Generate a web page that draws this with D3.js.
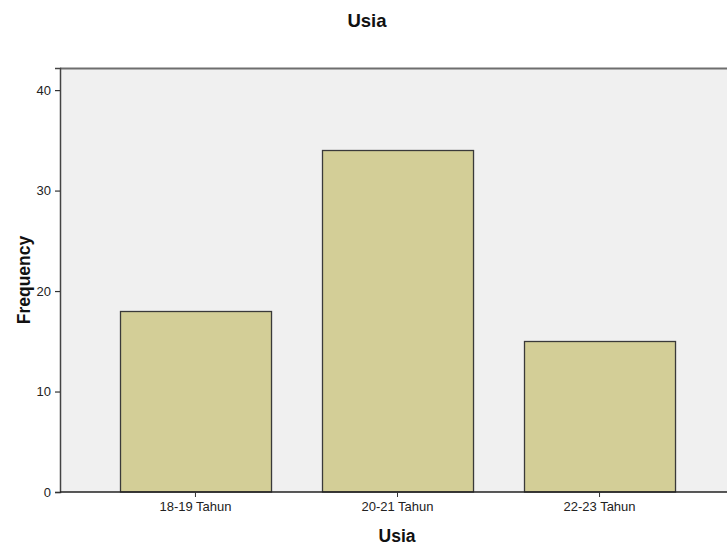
<!DOCTYPE html>
<html>
<head>
<meta charset="utf-8">
<script src="https://cdn.jsdelivr.net/npm/d3@7/dist/d3.min.js"></script>
<style>
  body { margin: 0; background: #fff; }
  svg { display: block; }
</style>
</head>
<body>
<svg id="chart" width="727" height="550"></svg>
<script>
const categories = ["18-19 Tahun", "20-21 Tahun", "22-23 Tahun"];
const frequencies = [18, 34, 15];
const yTicks = [0, 10, 20, 30, 40];
const chartTitle = "Usia";
const xTitle = "Usia";
const yTitle = "Frequency";

const W = 727, H = 550;
const plot = { left: 60, top: 68, right: 730, bottom: 492 };
const FONT = "Arial, 'Liberation Sans', sans-serif";

const svg = d3.select("#chart");

const y = d3.scaleLinear().domain([0, 42.2]).range([plot.bottom, plot.top]);
const x = d3.scaleBand().domain(categories).range([94.5, 700.5]).paddingInner(0.2525).paddingOuter(0.126);

// plot background
svg.append("rect")
  .attr("x", plot.left).attr("y", plot.top)
  .attr("width", plot.right - plot.left).attr("height", plot.bottom - plot.top)
  .attr("fill", "#f0f0f0");

// top border
svg.append("line")
  .attr("x1", plot.left).attr("x2", plot.right)
  .attr("y1", plot.top + 0.5).attr("y2", plot.top + 0.5)
  .attr("stroke", "#6e6e6e").attr("stroke-width", 2);

// bars
svg.append("g").selectAll("rect")
  .data(categories)
  .join("rect")
  .attr("x", d => Math.round(x(d)) + 0.5)
  .attr("y", (d, i) => Math.round(y(frequencies[i])) + 0.5)
  .attr("width", x.bandwidth())
  .attr("height", (d, i) => y(0) - Math.round(y(frequencies[i])) - 0.5)
  .attr("fill", "#d3ce97")
  .attr("stroke", "#3a3a3a")
  .attr("stroke-width", 1.3);

// y axis
const yAxis = d3.axisLeft(y).tickValues(yTicks).tickSize(5).tickPadding(4).tickFormat(d3.format("d"));
const gy = svg.append("g").attr("transform", `translate(${plot.left},0)`).call(yAxis);
gy.select(".domain").attr("stroke", "#444").attr("stroke-width", 1.5);
gy.selectAll(".tick line").attr("stroke", "#333").attr("stroke-width", 1.2);
gy.selectAll(".tick text").attr("font-family", FONT).attr("font-size", 13).attr("fill", "#222");

// x axis
const xAxis = d3.axisBottom(x).tickSize(5).tickPadding(5).tickSizeOuter(0);
const gx = svg.append("g").attr("transform", `translate(0,${plot.bottom})`).call(xAxis);
gx.select(".domain").attr("d", `M${plot.left},0H${plot.right}`).attr("stroke", "#222").attr("stroke-width", 1.5);
gx.selectAll(".tick line").attr("stroke", "#333");
gx.selectAll(".tick text").attr("font-family", FONT).attr("font-size", 13).attr("fill", "#222");

// titles
svg.append("text")
  .attr("x", 367).attr("y", 27)
  .attr("text-anchor", "middle")
  .attr("font-family", FONT)
  .attr("font-weight", "bold").attr("font-size", 18.5)
  .attr("fill", "#111")
  .text(chartTitle);

svg.append("text")
  .attr("x", 397).attr("y", 542)
  .attr("text-anchor", "middle")
  .attr("font-family", FONT)
  .attr("font-weight", "bold").attr("font-size", 17.5)
  .attr("fill", "#111")
  .text(xTitle);

svg.append("text")
  .attr("transform", "translate(30,280) rotate(-90)")
  .attr("text-anchor", "middle")
  .attr("font-family", FONT)
  .attr("font-weight", "bold").attr("font-size", 17.5)
  .attr("fill", "#111")
  .text(yTitle);
</script>
</body>
</html>
